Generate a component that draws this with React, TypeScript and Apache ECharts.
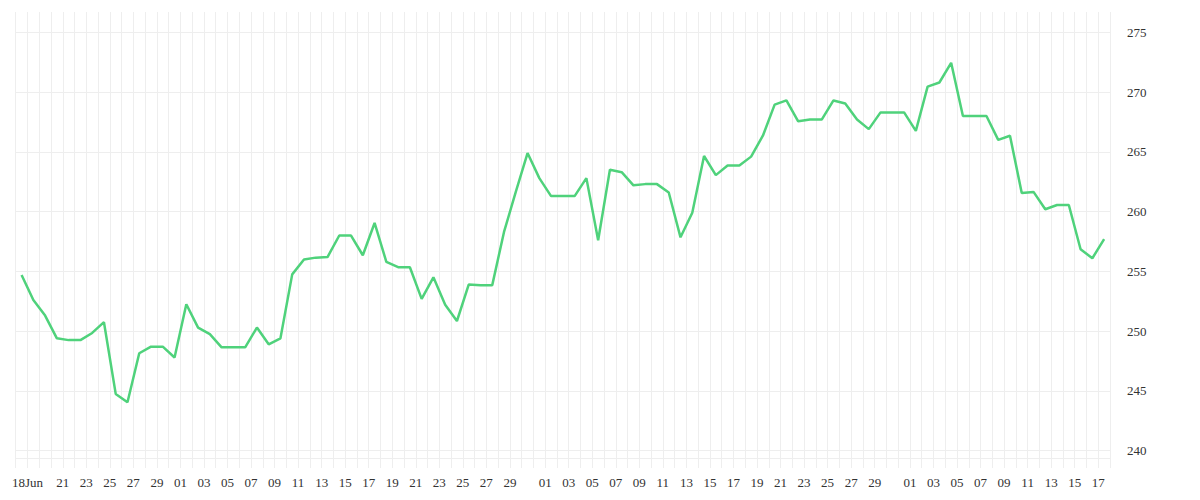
import React, { useEffect, useRef } from "react";
import * as echarts from "echarts";

// grid lines sit on day boundaries, Jun 17 .. Sep 18
const dayLines: string[] = [
  "06-17", "06-18", "06-19", "06-20", "06-21", "06-22", "06-23", "06-24", "06-25", "06-26", "06-27", "06-28", "06-29", "06-30",
  "07-01", "07-02", "07-03", "07-04", "07-05", "07-06", "07-07", "07-08", "07-09", "07-10", "07-11", "07-12", "07-13", "07-14", "07-15", "07-16",
  "07-17", "07-18", "07-19", "07-20", "07-21", "07-22", "07-23", "07-24", "07-25", "07-26", "07-27", "07-28", "07-29", "07-30", "07-31",
  "08-01", "08-02", "08-03", "08-04", "08-05", "08-06", "08-07", "08-08", "08-09", "08-10", "08-11", "08-12", "08-13", "08-14", "08-15", "08-16",
  "08-17", "08-18", "08-19", "08-20", "08-21", "08-22", "08-23", "08-24", "08-25", "08-26", "08-27", "08-28", "08-29", "08-30", "08-31",
  "09-01", "09-02", "09-03", "09-04", "09-05", "09-06", "09-07", "09-08", "09-09", "09-10", "09-11", "09-12", "09-13", "09-14", "09-15", "09-16",
  "09-17", "09-18",
];

// one point per day, drawn between two day lines
const pointDays: string[] = dayLines.slice(0, -1);

const prices: number[] = [
  254.7, 252.6, 251.3, 249.4, 249.25, 249.25, 249.85, 250.75, 244.75, 244.05,
  248.15, 248.7, 248.7, 247.8, 252.25, 250.3, 249.75, 248.65, 248.65, 248.65,
  250.3, 248.9, 249.4, 254.75, 256.0, 256.15, 256.2, 258.0, 258.0, 256.35,
  259.05, 255.8, 255.35, 255.35, 252.7, 254.5, 252.2, 250.85, 253.9, 253.85,
  253.85, 258.3, 261.65, 264.9, 262.8, 261.3, 261.3, 261.3, 262.8, 257.6,
  263.5, 263.3, 262.2, 262.3, 262.3, 261.6, 257.85, 259.9, 264.65, 263.05,
  263.85, 263.85, 264.6, 266.35, 268.95, 269.3, 267.55, 267.7, 267.7, 269.3,
  269.05, 267.7, 266.9, 268.3, 268.3, 268.3, 266.75, 270.45, 270.8, 272.45,
  268.0, 268.0, 268.0, 266.0, 266.35, 261.55, 261.65, 260.2, 260.55, 260.55,
  256.85, 256.1, 257.7,
];

// dates that carry a label under the axis
const tickDates: string[] = [
  "06-18", "06-21", "06-23", "06-25", "06-27", "06-29",
  "07-01", "07-03", "07-05", "07-07", "07-09", "07-11", "07-13", "07-15", "07-17", "07-19", "07-21", "07-23", "07-25", "07-27", "07-29",
  "08-01", "08-03", "08-05", "08-07", "08-09", "08-11", "08-13", "08-15", "08-17", "08-19", "08-21", "08-23", "08-25", "08-27", "08-29",
  "09-01", "09-03", "09-05", "09-07", "09-09", "09-11", "09-13", "09-15", "09-17",
];
const firstTickLabel = "18Jun";

const yMin = 240;
const yMax = 275;
const yStep = 5;

const gridColor = "#eeeeee";
const lineColor = "#4fd27b";
const textColor = "#333333";
const font = "'Liberation Serif', serif";

const App: React.FC = () => {
  const chartRef = useRef<HTMLDivElement>(null);

  useEffect(() => {
    document.body.style.margin = "0";
    if (!chartRef.current) return;
    const chart = echarts.init(chartRef.current, undefined, { renderer: "svg" });

    const option = {
      animation: false,
      grid: [
        // background grid: day lines + axis ticks + labels
        { left: 15.7, right: 90, top: 12, bottom: 42 },
        // value grid: 240..275
        { left: 15.7, right: 90, top: 32.3, bottom: 49.3 },
      ],
      xAxis: [
        {
          type: "category",
          gridIndex: 0,
          data: dayLines,
          boundaryGap: false,
          axisLine: { show: true, lineStyle: { color: gridColor, width: 1 } },
          axisTick: { show: true, interval: 0, length: 10, lineStyle: { color: gridColor } },
          splitLine: { show: true, interval: 0, lineStyle: { color: gridColor, width: 1 } },
          axisLabel: {
            interval: 0,
            margin: 18,
            color: textColor,
            fontFamily: font,
            fontSize: 13,
            formatter: (value: string) => {
              if (tickDates.indexOf(value) < 0) return "";
              if (value === tickDates[0]) return firstTickLabel;
              return value.slice(3);
            },
          },
        },
        {
          type: "category",
          gridIndex: 1,
          data: pointDays,
          boundaryGap: true,
          show: false,
        },
      ],
      yAxis: [
        { type: "value", gridIndex: 0, min: 0, max: 1, show: false },
        {
          type: "value",
          gridIndex: 1,
          position: "right",
          min: yMin,
          max: yMax,
          interval: yStep,
          axisLine: { show: false },
          axisTick: { show: false },
          splitLine: { show: true, lineStyle: { color: gridColor, width: 1 } },
          axisLabel: {
            margin: 17,
            color: textColor,
            fontFamily: font,
            fontSize: 13,
          },
        },
      ],
      series: [
        {
          type: "line",
          xAxisIndex: 1,
          yAxisIndex: 1,
          data: prices,
          showSymbol: false,
          symbol: "none",
          lineStyle: { color: lineColor, width: 2.5 },
          itemStyle: { color: lineColor },
        },
      ],
    };

    chart.setOption(option);

    const handleResize = () => chart.resize();
    window.addEventListener("resize", handleResize);
    return () => {
      window.removeEventListener("resize", handleResize);
      chart.dispose();
    };
  }, []);

  return <div ref={chartRef} style={{ width: "1200px", height: "500px" }} />;
};

export default App;
